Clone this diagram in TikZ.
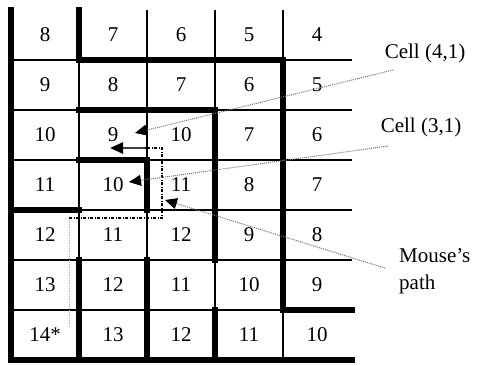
\documentclass[tikz,border=0pt]{standalone}
\usepackage{fontspec}
\setmainfont{Liberation Serif}
\usetikzlibrary{arrows.meta}
\begin{document}
\begin{tikzpicture}[x=1pt,y=-1pt,
  thinline/.style={line width=1.2pt},
  wall/.style={line width=5.5pt, line cap=rect, line join=miter},
  num/.style={font=\fontsize{21}{24}\selectfont, inner sep=0pt},
  lbl/.style={font=\fontsize{21}{27}\selectfont, inner sep=0pt},
  leader/.style={black!55, line width=1pt, densely dotted},
  tipa/.style={-{Triangle[length=12pt,width=11pt,black]}},
  mpath/.style={line width=1.5pt, dash pattern=on 3pt off 1.5pt on 1pt off 1.5pt},
  guide/.style={gray!70, line width=1pt, densely dotted}
]
\useasboundingbox (0,0) rectangle (481,365);
% thin grid lines
\foreach \y in {60,110,160,210,260,310} \draw[thinline] (11,\y) -- (352,\y);
\foreach \x in {79,147,215,283} \draw[thinline] (\x,10) -- (\x,360);
% walls
\draw[wall] (11,10) -- (11,360) -- (352,360);
\draw[wall] (79,10) -- (79,60) -- (283,60) -- (283,310) -- (352,310);
\draw[wall] (79,110) -- (215,110) -- (215,260);
\draw[wall] (79,160) -- (147,160) -- (147,210);
\draw[wall] (11,210) -- (79,210);
\draw[wall] (79,260) -- (79,360);
\draw[wall] (147,260) -- (147,360);
\draw[wall] (215,310) -- (215,360);
% numbers
\foreach \r/\vals in {0/{8,7,6,5,4},1/{9,8,7,6,5},2/{10,9,10,7,6},3/{11,10,11,8,7},4/{12,11,12,9,8},5/{13,12,11,10,9},6/{14*,13,12,11,10}} {
  \foreach \v [count=\c from 0] in \vals {
    \node[num] (n\r\c) at ({11+68*(\c+0.5)},{10+50*(\r+0.5)}) {\v};
  }
}
% mouse's path
\coordinate (p0) at (69,327);
\coordinate (p1) at (69,218);
\coordinate (p2) at (162,218);
\coordinate (p3) at (162,148);
\coordinate (p4) at (145,148);
\coordinate (p5) at (110,148);
\draw[guide] (p0) -- (p1);
\draw[mpath] (p1) -- (p2) -- (p3) -- (p4);
\draw[line width=2.5pt, black!75, -{Triangle[length=13pt,width=11pt,black]}] (p4) -- (p5);
% labels
\node[lbl] (c41) at (425,53) {Cell (4,1)};
\node[lbl] (c31) at (421,127) {Cell (3,1)};
\node[lbl, align=left, anchor=west] (mp) at (399,271) {Mouse's\\path};
% leader lines
\coordinate (s41) at (393,70);
\coordinate (t41) at (135,133);
\coordinate (s31) at (388,146);
\coordinate (t31) at (129,182);
\coordinate (smp) at (385,268);
\coordinate (tmp) at (165,200);
\draw[leader, tipa] (s41) -- (t41);
\draw[leader, tipa] (s31) -- (t31);
\draw[leader, tipa] (smp) -- (tmp);
\end{tikzpicture}
\end{document}
